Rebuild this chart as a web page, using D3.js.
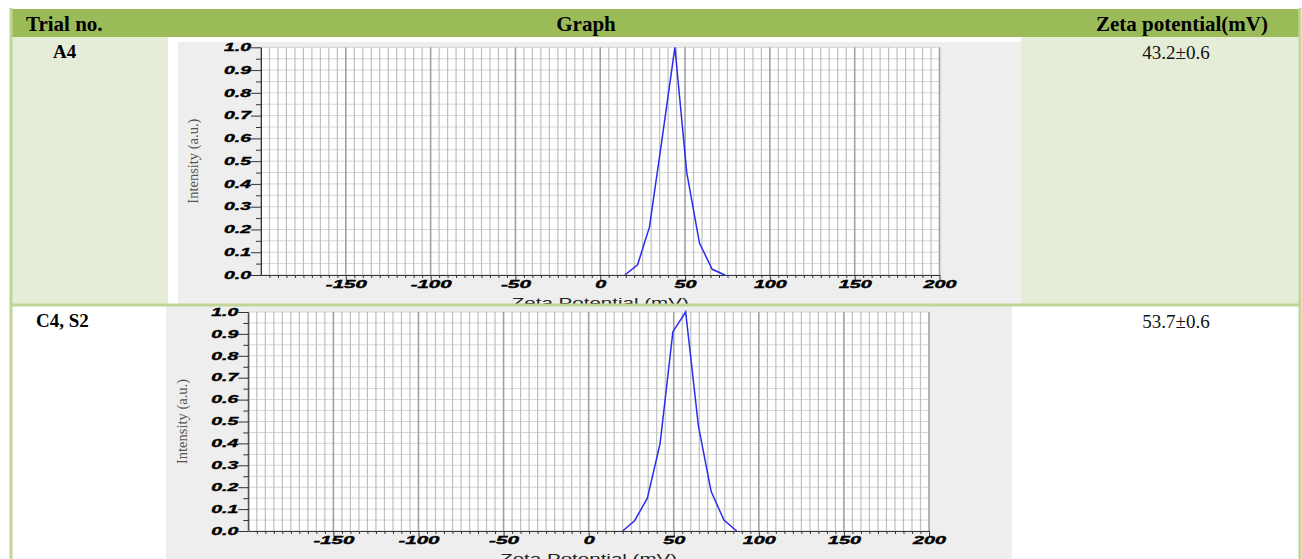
<!DOCTYPE html>
<html>
<head>
<meta charset="utf-8">
<script src="https://cdn.jsdelivr.net/npm/d3@7"></script>
<style>
body { margin: 0; background: #fff; }
svg { display: block; }
.hdr { font-family: "Liberation Serif", serif; font-weight: bold; font-size: 21px; fill: #000; }
.trial { font-family: "Liberation Serif", serif; font-weight: bold; font-size: 19px; fill: #000; }
.zeta { font-family: "Liberation Serif", serif; font-size: 19px; fill: #111; }
.tick text { font-family: "Liberation Sans", Arial, sans-serif; font-weight: bold; font-style: italic; font-size: 10px; fill: #000; stroke: #000; stroke-width: 0.35px; }
.ylab { font-family: "Liberation Serif", serif; font-size: 14px; fill: #555; }
.xlab { font-family: "Liberation Sans", Arial, sans-serif; font-size: 13px; fill: #222; }
</style>
</head>
<body>
<svg width="1302" height="559"></svg>
<script>
var svg = d3.select('svg');

// table text
var headers = ['Trial no.', 'Graph', 'Zeta potential(mV)'];
var trials = ['A4', 'C4, S2'];
var zetaValues = ['43.2±0.6', '53.7±0.6'];

// axis ticks
var xTicks = [-150, -100, -50, 0, 50, 100, 150, 200];
var yTicks = [0.0, 0.1, 0.2, 0.3, 0.4, 0.5, 0.6, 0.7, 0.8, 0.9, 1.0];

// distribution curves
var a4X = [14.5, 22, 29, 36.5, 44, 51, 58.5, 66, 73.5];
var a4Y = [0.0, 0.045, 0.21, 0.6, 1.0, 0.45, 0.14, 0.025, 0.0];
var c4X = [20, 27, 34.5, 42, 49.5, 57, 64.5, 72, 79.5, 87];
var c4Y = [0.0, 0.047, 0.15, 0.40, 0.91, 1.0, 0.48, 0.18, 0.05, 0.0];

var green = '#9bbb59';
var lightGreen = '#e5edd8';
var border = '#c0d596';

// ---- table backgrounds ----
svg.append('rect').attr('x', 12).attr('y', 9).attr('width', 1287).attr('height', 28).attr('fill', green);
svg.append('rect').attr('x', 12).attr('y', 37).attr('width', 156).attr('height', 267).attr('fill', lightGreen);
svg.append('rect').attr('x', 1021).attr('y', 37).attr('width', 278).attr('height', 267).attr('fill', lightGreen);
// pasted graph images (grey panels)
svg.append('rect').attr('x', 178).attr('y', 42).attr('width', 843).attr('height', 262).attr('fill', '#eeeeee');
svg.append('rect').attr('x', 166).attr('y', 306).attr('width', 846).attr('height', 253).attr('fill', '#eeeeee');

// char widths so the stretched tick labels come out as wide as in the picture
function labelLen(s) {
	var w = 0;
	for (var i = 0; i < s.length; i++) {
		var c = s[i];
		if (c === '-') w += 8;
		else if (c === '.') w += 5;
		else w += 11;
	}
	return w;
}

function drawChart(id, box, clip, ylabX, xs, ys) {
	svg.append('clipPath').attr('id', id)
		.append('rect').attr('x', clip[0]).attr('y', clip[1]).attr('width', clip[2]).attr('height', clip[3]);

	var g = svg.append('g').attr('clip-path', 'url(#' + id + ')');

	var x = d3.scaleLinear().domain([-200, 200]).range([box.l, box.r]);
	var y = d3.scaleLinear().domain([0, 1]).range([box.b, box.t]);

	g.append('rect').attr('x', x(-200)).attr('y', y(1)).attr('width', x(200) - x(-200)).attr('height', y(0) - y(1)).attr('fill', '#fff');

	// grid
	g.selectAll('.hgrid').data(d3.range(0, 21).map(function(d) { return d * 0.05; }))
		.enter().append('line').attr('class', 'hgrid')
		.attr('x1', x(-200)).attr('x2', x(200))
		.attr('y1', function(d) { return y(d); }).attr('y2', function(d) { return y(d); })
		.attr('stroke', '#d6d6d6').attr('stroke-width', 1);

	g.selectAll('.vgrid').data(d3.range(-200, 201, 5))
		.enter().append('line').attr('class', 'vgrid')
		.attr('x1', function(d) { return x(d); }).attr('x2', function(d) { return x(d); })
		.attr('y1', y(0)).attr('y2', y(1))
		.attr('stroke', function(d) { return d % 50 === 0 ? '#a0a0a0' : '#bfbfbf'; })
		.attr('stroke-width', function(d) { return d % 50 === 0 ? 1.6 : 1.2; });

	// axes
	var minorY = d3.range(0, 10).map(function(d) { return d * 0.1 + 0.05; });
	g.append('g').attr('transform', 'translate(' + x(-200) + ',0)')
		.call(d3.axisLeft(y).tickValues(minorY).tickSize(5).tickFormat(''))
		.call(function(a) { a.select('.domain').remove(); });
	var ya = g.append('g').attr('transform', 'translate(' + x(-200) + ',0)')
		.call(d3.axisLeft(y).tickValues(yTicks).tickSize(10).tickSizeOuter(0).tickPadding(0).tickFormat(d3.format('.1f')));

	var minorX = d3.range(-195, 200, 5).filter(function(d) { return d % 50 !== 0; });
	g.append('g').attr('transform', 'translate(0,' + y(0) + ')')
		.call(d3.axisBottom(x).tickValues(minorX).tickSize(3).tickFormat(''))
		.call(function(a) { a.select('.domain').remove(); });
	var xa = g.append('g').attr('transform', 'translate(0,' + y(0) + ')')
		.call(d3.axisBottom(x).tickValues(xTicks).tickSize(6).tickSizeOuter(0).tickPadding(0).tickFormat(function(d) { return String(d); }));

	[ya, xa].forEach(function(a) {
		a.selectAll('.domain').attr('stroke', '#333');
		a.selectAll('.tick text')
			.attr('textLength', function() { return labelLen(d3.select(this).text()); })
			.attr('lengthAdjust', 'spacingAndGlyphs');
	});
	g.selectAll('.tick line').attr('stroke', '#333');

	// curve
	var pts = xs.map(function(v, i) { return [v, ys[i]]; });
	g.append('path').datum(pts)
		.attr('fill', 'none').attr('stroke', '#2b2bf2').attr('stroke-width', 1.5)
		.attr('d', d3.line().x(function(d) { return x(d[0]); }).y(function(d) { return y(d[1]); }));

	// axis titles
	g.append('text').attr('class', 'ylab')
		.attr('transform', 'translate(' + ylabX + ',' + ((box.t + box.b) / 2) + ') rotate(-90)')
		.attr('text-anchor', 'middle')
		.attr('textLength', 85).attr('lengthAdjust', 'spacingAndGlyphs')
		.text('Intensity (a.u.)');
	g.append('text').attr('class', 'xlab')
		.attr('x', x(0)).attr('y', y(0) + 32)
		.attr('text-anchor', 'middle')
		.attr('textLength', 177).attr('lengthAdjust', 'spacingAndGlyphs')
		.text('Zeta Potential (mV)');
}

drawChart('clip1', {l: 261, r: 939.5, t: 47.3, b: 275}, [178, 42, 843, 262], 198, a4X, a4Y);
drawChart('clip2', {l: 248.3, r: 929, t: 312, b: 531}, [166, 306, 846, 253], 187, c4X, c4Y);

// ---- borders ----
svg.append('line').attr('x1', 11).attr('x2', 11).attr('y1', 8).attr('y2', 559).attr('stroke', border).attr('stroke-width', 3);
svg.append('line').attr('x1', 1300).attr('x2', 1300).attr('y1', 8).attr('y2', 559).attr('stroke', border).attr('stroke-width', 3);
svg.append('line').attr('x1', 10).attr('x2', 1301).attr('y1', 305).attr('y2', 305).attr('stroke', border).attr('stroke-width', 3);

// ---- table text ----
svg.append('text').attr('class', 'hdr').attr('x', 26).attr('y', 31).text(headers[0]);
svg.append('text').attr('class', 'hdr').attr('x', 586).attr('y', 31).attr('text-anchor', 'middle').text(headers[1]);
svg.append('text').attr('class', 'hdr').attr('x', 1268).attr('y', 31).attr('text-anchor', 'end').text(headers[2]);

var rowBase = [58, 327];
trials.forEach(function(t, i) {
	svg.append('text').attr('class', 'trial').attr('x', i === 0 ? 53 : 36).attr('y', rowBase[i]).text(t);
	svg.append('text').attr('class', 'zeta').attr('x', 1176).attr('y', rowBase[i] + 1).attr('text-anchor', 'middle').text(zetaValues[i]);
});
</script>
</body>
</html>
